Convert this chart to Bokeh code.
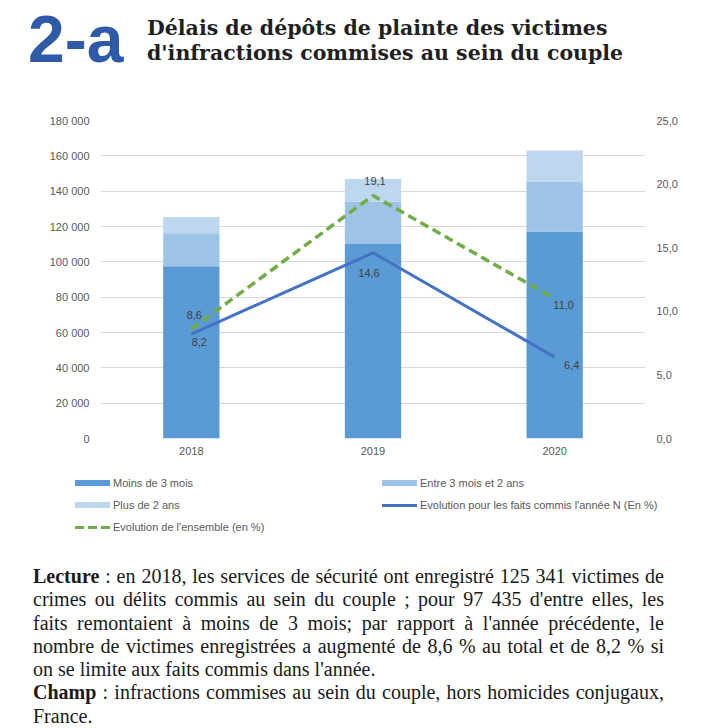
from bokeh.plotting import figure
from bokeh.models import (ColumnDataSource, Range1d, LinearAxis,
                          CustomJSTickFormatter, FixedTicker, Div)
from bokeh.layouts import column
from bokeh.core.properties import value
from bokeh.embed import file_html
from bokeh.resources import INLINE

# ---------------- data ----------------
years = ["2018", "2019", "2020"]
moins_3_mois = [97435, 110060, 117170]
entre_3_mois_2_ans = [18800, 24100, 28300]
plus_2_ans = [9100, 12700, 17600]
evol_faits_annee = [8.2, 14.6, 6.4]     # Evolution pour les faits commis l'année N (En %)
evol_ensemble = [8.6, 19.1, 11.0]       # Evolution de l'ensemble (en %)
left_ticks = [0, 20000, 40000, 60000, 80000, 100000, 120000, 140000, 160000, 180000]
right_ticks = [0, 5, 10, 15, 20, 25]

series_labels = ["Moins de 3 mois", "Entre 3 mois et 2 ans", "Plus de 2 ans",
                 "Evolution pour les faits commis l'année N (En %)",
                 "Evolution de l'ensemble (en %)"]

title_code = "2-a"
title_lines = ["Délais de dépôts de plainte des victimes",
               "d'infractions commises au sein du couple"]

W = 712
SANS = "Liberation Sans"
GREY = "#595959"
C_MOINS, C_ENTRE, C_PLUS = "#5B9BD5", "#9DC3E6", "#BDD7EE"
C_BLUE, C_GREEN = "#4472C4", "#70AD47"

# ---------------- title ----------------
def span(left, top, txt, style):
    return (f"<span style='position:absolute;left:{left}px;top:{top}px;white-space:nowrap;"
            f"{style}'>{txt}</span>")

serif_t = ("font-family:\"DejaVu Serif\";font-weight:bold;font-size:20.5px;"
           "line-height:24px;color:#1f1f1f;")
title_html = (
    "<div style='position:relative;width:712px;height:103px;'>"
    + span(28, 6, title_code, "font-family:\"Liberation Sans\";font-weight:bold;font-size:66px;"
                              "line-height:66px;color:#2E5AA8;")
    + span(147, 16, title_lines[0], serif_t)
    + span(147, 41, title_lines[1], serif_t)
    + "</div>")
title = Div(text=title_html, width=W, height=103, margin=0)

# ---------------- chart ----------------
src = ColumnDataSource(dict(years=years, moins=moins_3_mois, entre=entre_3_mois_2_ans,
                            plus=plus_2_ans, faits=evol_faits_annee, ens=evol_ensemble))

p = figure(width=W, height=363, x_range=years, y_range=Range1d(0, 180000),
           output_backend="svg", toolbar_location=None,
           min_border_left=100, min_border_right=67, min_border_top=17, min_border_bottom=28)
p.extra_y_ranges = {"pct": Range1d(0, 25)}
p.outline_line_color = None
p.xgrid.grid_line_color = None
p.ygrid.grid_line_color = "#d9d9d9"
p.ygrid.grid_line_width = 1

bars = p.vbar_stack(["moins", "entre", "plus"], x="years", width=0.31, source=src,
                    color=[C_MOINS, C_ENTRE, C_PLUS], line_color=None)

green = p.line(x="years", y="ens", source=src, y_range_name="pct", line_color=C_GREEN,
               line_width=3.5, line_dash="9 5")
blue = p.line(x="years", y="faits", source=src, y_range_name="pct", line_color=C_BLUE,
              line_width=3)

fmt = lambda v: f"{v:.1f}".replace(".", ",")
ens_src = ColumnDataSource(dict(x=years, y=evol_ensemble, t=[fmt(v) for v in evol_ensemble],
                                dx=[3, 2, 9], dy=[-14, -15, 6]))
faits_src = ColumnDataSource(dict(x=years, y=evol_faits_annee, t=[fmt(v) for v in evol_faits_annee],
                                  dx=[8, -4, 17], dy=[8, 20, 8]))
for s in (ens_src, faits_src):
    p.text(x="x", y="y", text="t", source=s, y_range_name="pct", x_offset="dx", y_offset="dy",
           text_align="center", text_baseline="middle", text_font=value(SANS),
           text_font_size="11px", text_color="#404040")

# axes
p.yaxis.ticker = FixedTicker(ticks=left_ticks)
p.yaxis.formatter = CustomJSTickFormatter(
    code="return tick.toString().replace(/\\B(?=(\\d{3})+(?!\\d))/g, ' ');")
ax_r = LinearAxis(y_range_name="pct", ticker=FixedTicker(ticks=right_ticks),
                  formatter=CustomJSTickFormatter(code="return tick.toFixed(1).replace('.', ',');"))
p.add_layout(ax_r, "right")
for ax in p.yaxis + p.xaxis:
    ax.axis_line_color = None
    ax.major_tick_line_color = None
    ax.minor_tick_line_color = None
    ax.major_tick_out = 0
    ax.major_label_text_font = SANS
    ax.major_label_text_font_size = "11px"
    ax.major_label_text_color = GREY
p.yaxis.major_label_standoff = 11
p.xaxis.major_label_standoff = 8

# ---------------- legend (two columns, below the chart) ----------------
lab_style = (f"font-family:\"Liberation Sans\";font-size:11px;line-height:14px;color:{GREY};")
sw_bar = "width:35px;height:6px;background:{};"
sw_line = "width:35px;height:3px;background:{};"
sw_dash = ("width:35px;height:3px;background:repeating-linear-gradient(to right,{} 0 9px,"
           "transparent 9px 13px);")
leg_items = [  # (label, swatch style, column x, row)
    (series_labels[0], sw_bar.format(C_MOINS), 75, 0),
    (series_labels[1], sw_bar.format(C_ENTRE), 382, 0),
    (series_labels[2], sw_bar.format(C_PLUS), 75, 1),
    (series_labels[3], sw_line.format(C_BLUE), 382, 1),
    (series_labels[4], sw_dash.format(C_GREEN), 75, 2),
]
leg_html = "<div style='position:relative;width:712px;height:79px;'>"
for lab, sw, x0, r in leg_items:
    cy = 17 + 22 * r
    h = 6 if "6px" in sw else 3
    leg_html += span(x0, cy - h / 2, "", sw)
    leg_html += span(x0 + 38, cy - 7, lab, lab_style)
leg_html += "</div>"
legend = Div(text=leg_html, width=W, height=79, margin=0)

# ---------------- note text ----------------
note_lines = [
    ("<b>Lecture</b> : en 2018, les services de sécurité ont enregistré 125 341 victimes de", True),
    ("crimes ou délits commis au sein du couple ; pour 97 435 d'entre elles, les", True),
    ("faits remontaient à moins de 3 mois; par rapport à l'année précédente, le", True),
    ("nombre de victimes enregistrées a augmenté de 8,6 % au total et de 8,2 % si", True),
    ("on se limite aux faits commis dans l'année.", False),
    ("<b>Champ</b> : infractions commises au sein du couple, hors homicides conjugaux,", True),
    ("France.", False),
]
rows = "".join(
    f"<div style='white-space:nowrap;text-align:{'justify' if j else 'left'};"
    f"text-align-last:{'justify' if j else 'left'};'>{l}</div>" for l, j in note_lines)
html = (f"<div style='font-family:\"Liberation Serif\";font-size:20px;line-height:23.3px;"
        f"color:#1a1a1a;width:664px;padding-left:33px;padding-top:20px;'>{rows}</div>")
note = Div(text=html, width=W, height=183, margin=0, styles={"overflow": "hidden"})

layout = column(title, p, legend, note, spacing=0)
open("out.html", "w").write(file_html(layout, INLINE))
